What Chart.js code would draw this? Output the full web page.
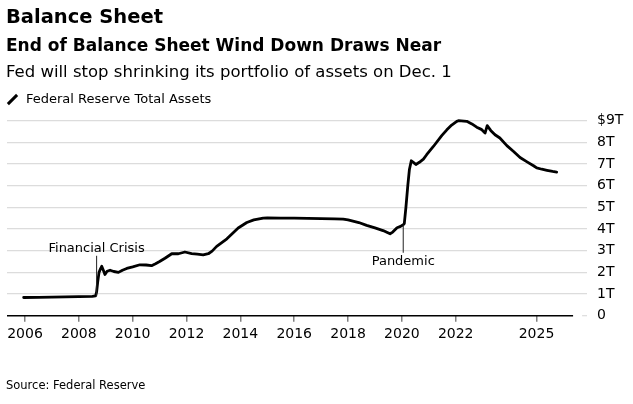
<!DOCTYPE html>
<html>
<head>
<meta charset="utf-8">
<script src="https://cdn.jsdelivr.net/npm/chart.js@4"></script>
<style>
  html, body { margin: 0; padding: 0; background: #fff; }
  #wrap { position: relative; width: 633px; height: 404px; overflow: hidden; font-family: "DejaVu Sans", sans-serif; color: #000; }
  #wrap canvas { position: absolute; left: 0; top: 0; }
  .txt { position: absolute; left: 6px; white-space: nowrap; }
  #title { top: 6.5px; font-size: 19.5px; line-height: 19.5px; font-weight: bold; }
  #sub { top: 37.3px; font-size: 17px; line-height: 17px; font-weight: bold; }
  #desc { top: 64.3px; font-size: 16.5px; line-height: 16.5px; }
  #legend { top: 91.7px; left: 26px; font-size: 13px; line-height: 13px; }
  #legicon { position: absolute; left: 5.5px; top: 98px; width: 13px; height: 3px; background: #000; transform: rotate(-45deg); }
  #source { top: 380.3px; font-size: 11.5px; line-height: 11.5px; }
</style>
</head>
<body>
<div id="wrap">
  <canvas id="chart" width="633" height="404"></canvas>
  <div class="txt" id="title">Balance Sheet</div>
  <div class="txt" id="sub">End of Balance Sheet Wind Down Draws Near</div>
  <div class="txt" id="desc">Fed will stop shrinking its portfolio of assets on Dec. 1</div>
  <div id="legicon"></div>
  <div class="txt" id="legend">Federal Reserve Total Assets</div>
  <div class="txt" id="source">Source: Federal Reserve</div>
</div>
<script>
// Fed total assets, trillions of dollars
const years = [
  2005.95, 2006.5, 2007.0, 2007.5, 2008.0, 2008.5, 2008.62, 2008.66, 2008.70, 2008.75,
  2008.80, 2008.85, 2008.91, 2008.97, 2009.05, 2009.16, 2009.3, 2009.47, 2009.62, 2009.78,
  2010.0, 2010.27, 2010.5, 2010.7, 2010.85, 2011.0, 2011.2, 2011.45, 2011.7, 2011.94,
  2012.19, 2012.4, 2012.62, 2012.81, 2012.95, 2013.12, 2013.5, 2013.92, 2014.24, 2014.5,
  2014.85, 2015.0, 2015.5, 2016.0, 2016.5, 2017.0, 2017.5, 2017.82, 2018.0, 2018.4,
  2018.69, 2019.0, 2019.3, 2019.56, 2019.66, 2019.82, 2019.95, 2020.05, 2020.09, 2020.15,
  2020.22, 2020.28, 2020.35, 2020.45, 2020.52, 2020.65, 2020.8, 2020.92, 2021.17, 2021.48,
  2021.67, 2021.85, 2022.04, 2022.1, 2022.41, 2022.6, 2022.78, 2022.95, 2023.09, 2023.17,
  2023.3, 2023.46, 2023.64, 2023.9, 2024.15, 2024.39, 2024.65, 2024.89, 2025.01, 2025.2,
  2025.39, 2025.6, 2025.75
];
const assets = [
  0.84, 0.85, 0.86, 0.87, 0.88, 0.89, 0.91, 1.10, 1.55, 2.00,
  2.15, 2.28, 2.10, 1.90, 2.05, 2.10, 2.04, 2.00, 2.10, 2.18,
  2.25, 2.35, 2.34, 2.31, 2.40, 2.50, 2.65, 2.86, 2.86, 2.94,
  2.87, 2.84, 2.81, 2.86, 2.98, 3.20, 3.55, 4.05, 4.30, 4.42,
  4.50, 4.51, 4.50, 4.50, 4.49, 4.48, 4.47, 4.46, 4.42, 4.30,
  4.17, 4.05, 3.93, 3.78, 3.86, 4.06, 4.12, 4.20, 4.25, 5.00,
  6.00, 6.75, 7.15, 7.05, 6.98, 7.08, 7.23, 7.43, 7.81, 8.31,
  8.58, 8.80, 8.97, 9.00, 8.97, 8.85, 8.70, 8.60, 8.43, 8.77,
  8.55, 8.35, 8.20, 7.85, 7.58, 7.30, 7.10, 6.92, 6.82, 6.76,
  6.71, 6.66, 6.63
];
const tickYears = [2006, 2008, 2010, 2012, 2014, 2016, 2018, 2020, 2022, 2025];
const valueTicks = [0, 1, 2, 3, 4, 5, 6, 7, 8, 9];
const valueLabels = ['0', '1T', '2T', '3T', '4T', '5T', '6T', '7T', '8T', '$9T'];
const noteYears = [2008.66, 2020.05];
const noteTexts = ['Financial Crisis', 'Pandemic'];
const noteFrom = [0.91, 4.2];

const FONT = '"DejaVu Sans", sans-serif';
const xMin = 2005.331, xMax = 2026.877, axisEnd = 2026.36;

const extras = {
  id: 'extras',
  afterDatasetsDraw(chart) {
    const ctx = chart.ctx;
    const xs = chart.scales.x, ys = chart.scales.y;
    const area = chart.chartArea;
    const y0 = ys.getPixelForValue(0);
    ctx.save();
    // baseline
    ctx.strokeStyle = '#000';
    ctx.lineWidth = 1.5;
    ctx.beginPath();
    ctx.moveTo(area.left, y0);
    ctx.lineTo(xs.getPixelForValue(axisEnd), y0);
    ctx.stroke();
    ctx.strokeStyle = '#dcdcdc';
    ctx.lineWidth = 1.2;
    ctx.beginPath();
    ctx.moveTo(xs.getPixelForValue(axisEnd) + 9, y0);
    ctx.lineTo(area.right, y0);
    ctx.stroke();

    // notes
    ctx.font = '13px ' + FONT;
    ctx.fillStyle = '#000';
    ctx.textAlign = 'center';
    ctx.textBaseline = 'alphabetic';
    ctx.strokeStyle = '#222';
    ctx.lineWidth = 1;
    // Financial Crisis: label above, line down to the series
    let px = xs.getPixelForValue(noteYears[0]);
    let base = ys.getPixelForValue(2.95);
    ctx.fillText(noteTexts[0], px, base);
    ctx.beginPath();
    ctx.moveTo(px, base + 4);
    ctx.lineTo(px, ys.getPixelForValue(noteFrom[0]));
    ctx.stroke();
    // Pandemic: line from the series down to the label
    px = xs.getPixelForValue(noteYears[1]);
    base = ys.getPixelForValue(2.35);
    ctx.fillText(noteTexts[1], px, base);
    ctx.beginPath();
    ctx.moveTo(px, ys.getPixelForValue(noteFrom[1]));
    ctx.lineTo(px, base - 12);
    ctx.stroke();
    ctx.restore();
  }
};

new Chart(document.getElementById('chart'), {
  type: 'line',
  data: {
    datasets: [{
      data: years.map((y, i) => ({ x: y, y: assets[i] })),
      borderColor: '#000',
      borderWidth: 2.8,
      borderJoinStyle: 'round',
      borderCapStyle: 'round',
      pointRadius: 0,
      tension: 0,
      clip: false
    }]
  },
  options: {
    responsive: false,
    animation: false,
    events: [],
    layout: { padding: { left: 7, right: 0, top: 120.7, bottom: 0 } },
    plugins: { legend: { display: false }, tooltip: { enabled: false } },
    scales: {
      x: {
        type: 'linear',
        min: xMin,
        max: xMax,
        afterBuildTicks: s => { s.ticks = tickYears.map(v => ({ value: v })); },
        afterFit: s => { s.height = 404 - 315.7; },
        border: { display: false },
        grid: { drawOnChartArea: false, drawTicks: true, tickLength: 6, color: '#808080', lineWidth: 1.5 },
        ticks: {
          padding: 4,
          maxRotation: 0,
          autoSkip: false,
          color: '#000',
          font: { family: FONT, size: 14 },
          callback: v => String(v)
        }
      },
      y: {
        position: 'right',
        min: 0,
        max: 9,
        afterBuildTicks: s => { s.ticks = valueTicks.map(v => ({ value: v })); },
        afterFit: s => { s.width = 46; },
        border: { display: false },
        grid: {
          drawTicks: false,
          color: c => (c.tick && c.tick.value === 0) ? 'rgba(0,0,0,0)' : '#dcdcdc',
          lineWidth: 1.2
        },
        ticks: {
          padding: 10,
          crossAlign: 'near',
          color: '#000',
          font: { family: FONT, size: 14 },
          callback: (v, i) => valueLabels[valueTicks.indexOf(v)]
        }
      }
    }
  },
  plugins: [extras]
});
</script>
</body>
</html>
